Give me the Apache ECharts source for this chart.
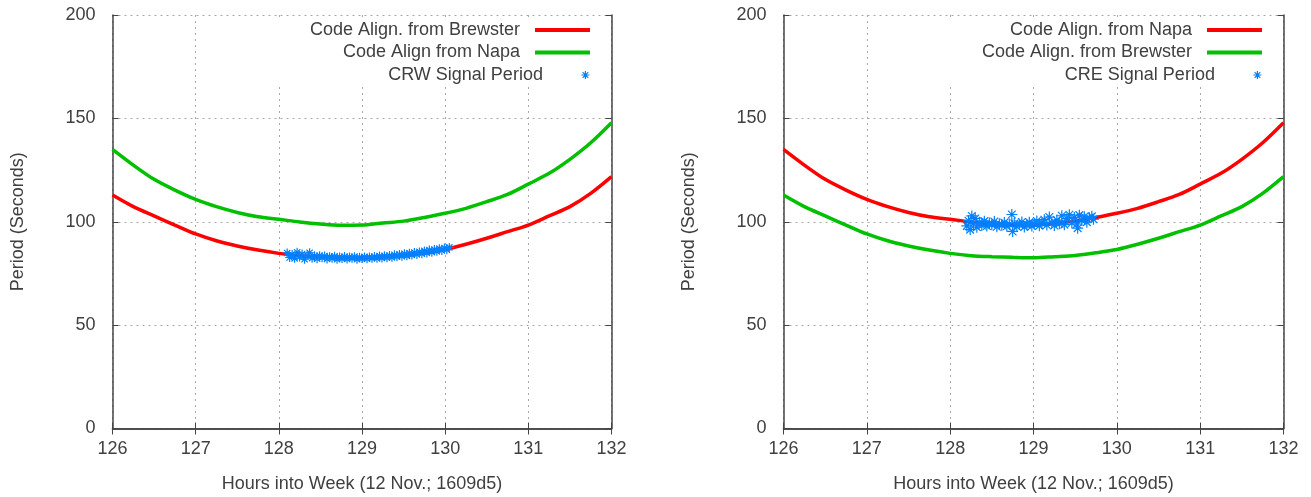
<!DOCTYPE html>
<html>
<head>
<meta charset="utf-8">
<script src="https://cdn.jsdelivr.net/npm/echarts@6/dist/echarts.min.js"></script>
<style>
html,body{margin:0;padding:0;background:#fff;}
#chart{width:1311px;height:497px;}
</style>
</head>
<body>
<div id="chart"></div>
<script>
// ---- data ----
var xTicks = [126, 127, 128, 129, 130, 131, 132];
var yTicks = [0, 50, 100, 150, 200];
var hours = [126, 126.25, 126.5, 126.75, 127, 127.25, 127.5, 127.75, 128, 128.25, 128.5, 128.75, 129,
             129.25, 129.5, 129.75, 130, 130.25, 130.5, 130.75, 131, 131.25, 131.5, 131.75, 132];
var periodBrewster = [112.9, 107.3, 102.8, 98.4, 94.1, 90.8, 88.3, 86.3, 84.7, 83.6, 83.1, 82.8, 82.6,
                      83.1, 83.7, 85.0, 86.6, 89.1, 92.0, 95.2, 98.4, 102.8, 107.3, 113.7, 121.8];
var periodNapa = [135.0, 127.4, 120.5, 115.3, 110.8, 107.3, 104.5, 102.4, 101.2, 99.9, 98.9, 98.3, 98.4,
                  99.4, 100.3, 102.1, 104.1, 106.5, 109.7, 113.2, 118.2, 123.4, 130.2, 138.2, 147.9];
var crwHours = [128.10,128.13,128.16,128.19,128.22,128.25,128.28,128.31,128.34,128.37,128.40,128.43,128.46,128.49,
  128.52,128.55,128.58,128.61,128.64,128.67,128.70,128.73,128.76,128.79,128.82,128.85,128.88,128.91,128.94,128.97,
  129.00,129.03,129.06,129.09,129.12,129.15,129.18,129.21,129.24,129.27,129.30,129.33,129.36,129.39,129.42,129.45,
  129.48,129.51,129.54,129.57,129.60,129.63,129.66,129.69,129.72,129.75,129.78,129.81,129.84,129.87,129.90,129.93,
  129.96,129.99,130.02,130.05];
var crwPeriod = [84.9,82.7,84.1,82.3,85.2,83.0,84.4,81.9,83.8,85.0,82.4,83.5,82.1,83.6,
  82.6,83.4,82.0,83.1,82.3,83.3,81.9,82.9,82.2,83.2,82.0,82.9,82.3,83.1,81.9,82.8,
  82.2,83.0,82.1,82.9,82.4,83.2,82.3,83.4,82.5,83.5,82.6,83.7,82.8,84.0,83.1,84.2,
  83.3,84.5,83.5,84.8,83.9,85.1,84.2,85.4,84.5,85.9,84.9,86.3,85.3,86.6,85.7,87.0,
  86.1,87.3,86.5,87.6];
var creHours = [128.20,128.22,128.24,128.26,128.28,128.30,128.32,128.35,128.38,128.41,128.44,128.47,128.50,128.53,
  128.56,128.59,128.62,128.65,128.68,128.71,128.74,128.75,128.77,128.80,128.83,128.86,128.89,128.92,128.95,128.98,
  129.01,129.04,129.07,129.10,129.13,129.16,129.19,129.22,129.25,129.28,129.31,129.34,129.37,129.40,129.43,129.46,
  129.49,129.52,129.53,129.55,129.58,129.61,129.64,129.67,129.70,129.72];
var crePeriod = [98.0,100.5,96.2,102.8,99.1,101.6,97.4,99.8,98.2,100.3,97.9,99.4,98.6,100.1,
  97.6,99.0,98.3,99.6,97.8,98.9,103.5,95.3,99.2,97.7,98.8,99.9,97.5,98.6,99.7,97.9,
  98.9,100.4,98.1,99.3,101.0,98.4,102.3,99.6,98.2,100.8,99.0,102.9,98.6,101.5,103.4,99.4,
  102.0,98.9,96.9,103.2,100.6,102.4,99.8,101.9,102.6,101.2];

var RED = '#ff0000', GREEN = '#00c000', BLUE = '#0080ff';
var TXT = '#404040', FONT = 'Liberation Sans';
var STAR = 'path://M0,5L10,5M5,0L5,10M1.5,1.5L8.5,8.5M8.5,1.5L1.5,8.5';

function zip(a, b) { return a.map(function (v, i) { return [v, b[i]]; }); }

var grids = [
  {left: 112.5, right: 699.5, top: 15, bottom: 68.5, containLabel: false, outerBoundsMode: 'none'},
  {left: 783.5, right: 27.5, top: 15, bottom: 68.5, containLabel: false, outerBoundsMode: 'none'}
];

var xAxes = [], yAxes = [];
[0, 1].forEach(function (g) {
  xAxes.push({
    type: 'value', gridIndex: g, position: 'bottom', min: xTicks[0], max: xTicks[xTicks.length - 1], interval: 1,
    name: 'Hours into Week (12 Nov.; 1609d5)', nameLocation: 'middle', nameGap: 47,
    nameTextStyle: {color: TXT, fontSize: 18, fontFamily: FONT},
    axisLine: {lineStyle: {color: '#444', width: 1.5}},
    axisTick: {inside: true, length: 6, lineStyle: {color: '#444'}},
    axisLabel: {color: TXT, fontSize: 18, fontFamily: FONT, margin: 12},
    splitLine: {show: true, lineStyle: {color: '#a8a8a8', type: [2, 4], width: 1}}
  });
  xAxes.push({
    type: 'value', gridIndex: g, position: 'top', min: xTicks[0], max: xTicks[xTicks.length - 1], interval: 1,
    axisLine: {lineStyle: {color: '#444', width: 1.5}},
    axisTick: {inside: true, length: 6, lineStyle: {color: '#444'}},
    axisLabel: {show: false}, splitLine: {show: false}
  });
  yAxes.push({
    type: 'value', gridIndex: g, position: 'left', min: yTicks[0], max: yTicks[yTicks.length - 1], interval: 50,
    name: 'Period (Seconds)', nameLocation: 'middle', nameGap: 85,
    nameTextStyle: {color: TXT, fontSize: 18, fontFamily: FONT},
    axisLine: {show: true, lineStyle: {color: '#444', width: 1.5}},
    axisTick: {show: true, inside: true, length: 6, lineStyle: {color: '#444'}},
    axisLabel: {color: TXT, fontSize: 18, fontFamily: FONT, margin: 17},
    splitLine: {show: true, lineStyle: {color: '#a8a8a8', type: [2, 4], width: 1}}
  });
  yAxes.push({
    type: 'value', gridIndex: g, position: 'right', min: yTicks[0], max: yTicks[yTicks.length - 1], interval: 50,
    axisLine: {show: true, lineStyle: {color: '#444', width: 1.5}},
    axisTick: {show: true, inside: true, length: 6, lineStyle: {color: '#444'}},
    axisLabel: {show: false}, splitLine: {show: false}
  });
});

function lineSeries(name, g, data, color) {
  return {
    name: name, type: 'line', xAxisIndex: g * 2, yAxisIndex: g * 2, data: data,
    symbol: 'none', smooth: 0.3, lineStyle: {color: color, width: 3.5}, itemStyle: {color: color},
    z: 2, animation: false
  };
}
function starSeries(name, g, data, size) {
  return {
    name: name, type: 'scatter', xAxisIndex: g * 2, yAxisIndex: g * 2, data: data,
    symbol: STAR, symbolSize: size,
    itemStyle: {color: BLUE, borderColor: BLUE, borderWidth: 1.2, opacity: 1},
    z: 3, animation: false
  };
}

var series = [
  lineSeries('Code Align. from Brewster', 0, zip(hours, periodBrewster), RED),
  lineSeries('Code Align from Napa', 0, zip(hours, periodNapa), GREEN),
  starSeries('CRW Signal Period', 0, zip(crwHours, crwPeriod), 9),
  lineSeries('Code Align. from Napa', 1, zip(hours, periodNapa), RED),
  lineSeries('Code Align. from Brewster ', 1, zip(hours, periodBrewster), GREEN),
  starSeries('CRE Signal Period', 1, zip(creHours, crePeriod), 11)
];

function legendItem(name, right, top, isStar) {
  var l = {
    data: [name], right: right, top: top, orient: 'vertical', align: 'right', padding: 0,
    itemWidth: 55, itemHeight: isStar ? 8 : 4, selectedMode: false,
    formatter: function (n) { return n.replace(/\s+$/, '') + '  '; },
    textStyle: {color: TXT, fontSize: 18, fontFamily: FONT}
  };
  if (isStar) {
    l.itemStyle = {borderWidth: 1.2, borderColor: BLUE};
  } else {
    l.icon = 'rect';
  }
  return l;
}

var legends = [
  legendItem('Code Align. from Brewster', 721, 21, false),
  legendItem('Code Align from Napa', 721, 43.5, false),
  legendItem('CRW Signal Period', 721, 66, true),
  legendItem('Code Align. from Napa', 49, 21, false),
  legendItem('Code Align. from Brewster ', 49, 43.5, false),
  legendItem('CRE Signal Period', 49, 66, true)
];

var chart = echarts.init(document.getElementById('chart'), null, {renderer: 'canvas'});
chart.setOption({
  animation: false,
  backgroundColor: '#ffffff',
  grid: grids,
  xAxis: xAxes,
  yAxis: yAxes,
  legend: legends,
  graphic: [
    {type: 'rect', z: 1, silent: true, shape: {x: 268, y: 21, width: 342, height: 66}, style: {fill: '#ffffff'}},
    {type: 'rect', z: 1, silent: true, shape: {x: 939, y: 21, width: 343, height: 66}, style: {fill: '#ffffff'}}
  ],
  series: series
});
</script>
</body>
</html>
